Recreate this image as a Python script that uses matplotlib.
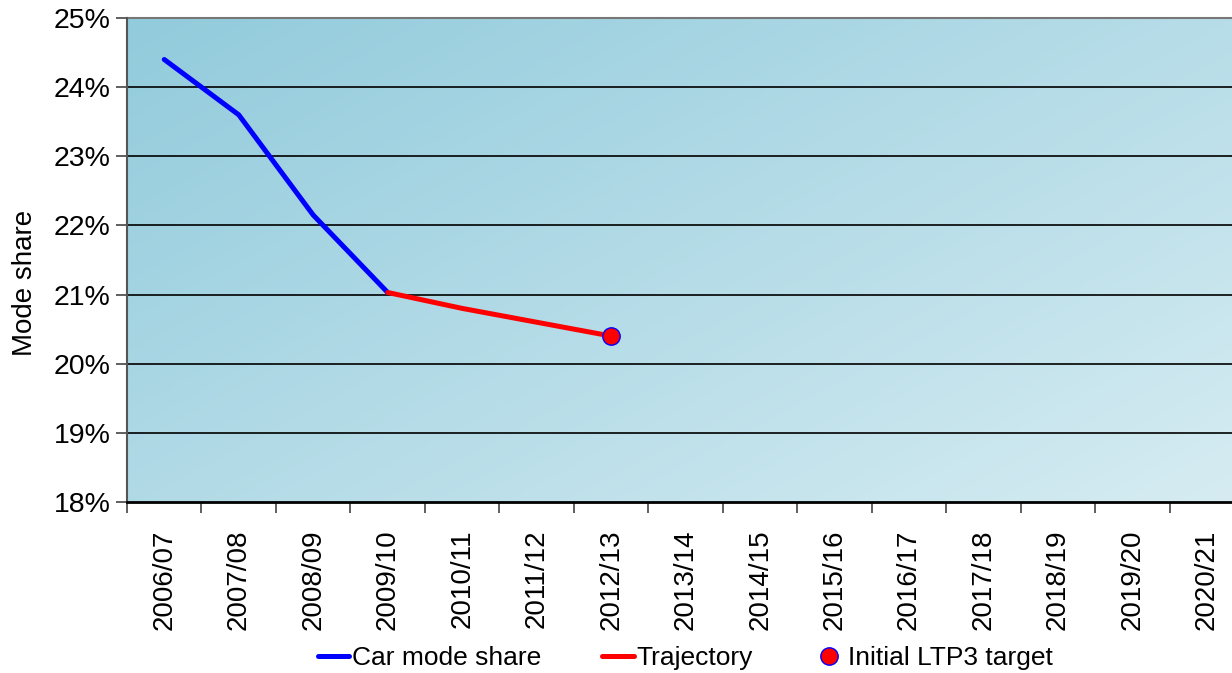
import matplotlib.pyplot as plt
import matplotlib.colors as mcolors
import numpy as np
from matplotlib.ticker import FixedLocator, NullFormatter

plt.rcParams['font.family'] = ['Liberation Sans', 'DejaVu Sans']

# データ
years = ['2006/07', '2007/08', '2008/09', '2009/10', '2010/11', '2011/12', '2012/13',
         '2013/14', '2014/15', '2015/16', '2016/17', '2017/18', '2018/19', '2019/20', '2020/21']
car_idx = [0, 1, 2, 3]
car_share = [24.4, 23.6, 22.15, 21.03]
traj_idx = [3, 4, 5, 6]
traj_share = [21.03, 20.8, 20.6, 20.4]
target_idx = [6]
target_share = [20.4]

fig = plt.figure(figsize=(12.32, 6.73), dpi=100)
ax = fig.add_axes([127/1232, 1 - 502/673, 1 - 127/1232 + 0.01, (502 - 18)/673])
ax_w_px = ax.get_position().width * 1232

# 背景グラデーション (左上が濃く、右下が薄い)
cmap = mcolors.LinearSegmentedColormap.from_list('bg', ['#92cbdc', '#d6ecf2'])
gx, gy = np.meshgrid(np.linspace(0, 1, 200), np.linspace(0, 1, 200))
grad = gx * 0.55 + gy * 0.45
ax.imshow(grad, cmap=cmap, extent=[-0.5, len(years) - 0.5, 18, 25], aspect='auto',
          origin='upper', zorder=0, interpolation='bilinear')

for v in range(19, 25):
    ax.axhline(v, color='black', lw=1.2, zorder=1)

ax.plot(car_idx, car_share, color='#0000ff', lw=3.6, label='Car mode share', zorder=3,
        solid_capstyle='round')
ax.plot(traj_idx, traj_share, color='#ff0000', lw=3.6, label='Trajectory', zorder=3,
        solid_capstyle='round')
ax.plot(target_idx, target_share, 'o', color='#ff0000', markeredgecolor='#0000ff',
        markersize=12.5, markeredgewidth=1, label='Initial LTP3 target', zorder=4, linestyle='none')

ax.set_xlim(-0.5, len(years) - 0.5)
ax.set_ylim(18, 25)
ax.set_yticks(range(18, 26))
ax.set_yticklabels([str(v) + '%' for v in range(18, 26)], fontsize=20.5)
ax.set_xticks(range(len(years)))
ax.set_xticklabels(years, rotation=90, fontsize=20)
ax.tick_params(axis='x', which='major', length=0, pad=20)
ax.xaxis.set_minor_locator(FixedLocator(np.arange(-0.5, len(years), 1)))
ax.xaxis.set_minor_formatter(NullFormatter())
ax.tick_params(axis='x', which='minor', length=8, width=1.2, color='#444444')
ax.tick_params(axis='y', length=8, width=1.2, color='#444444', pad=4)

ax.set_ylabel('Mode share', fontsize=20)
ax.yaxis.set_label_coords(-(127 - 38) / ax_w_px, 0.5 - 23 / 484)

for s in ['top', 'right']:
    ax.spines[s].set_visible(False)
ax.spines['left'].set_color('#555555')
ax.spines['left'].set_linewidth(1.5)
ax.spines['bottom'].set_color('black')
ax.spines['bottom'].set_linewidth(2)
ax.plot([0, 1], [1, 1], transform=ax.transAxes, color='#777777', lw=1.5, clip_on=False)

fig.legend(loc='center', bbox_to_anchor=(0.556, 1 - 658/673), ncol=3, frameon=False,
           fontsize=19, handlelength=1.2, handletextpad=0.1, columnspacing=2.3)

fig.savefig('out.png', dpi=100)
